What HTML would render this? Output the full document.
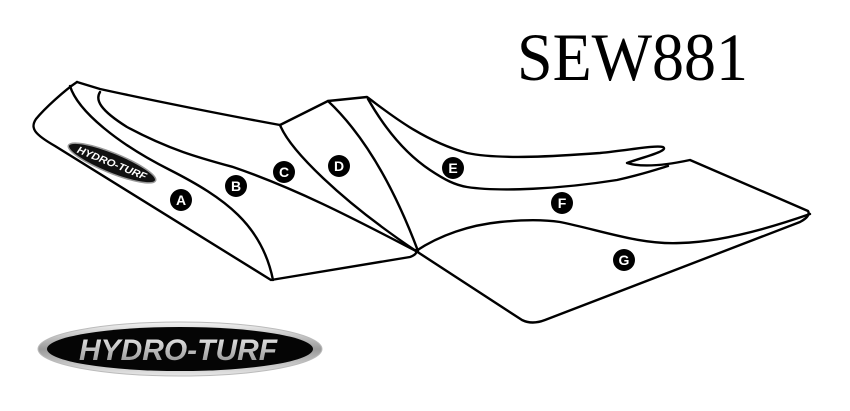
<!DOCTYPE html>
<html><head><meta charset="utf-8"><style>
html,body{margin:0;padding:0;background:#fff;}
svg{display:block;}
</style></head><body>
<svg width="850" height="411" viewBox="0 0 850 411" xmlns="http://www.w3.org/2000/svg">
<defs>
<linearGradient id="sil" x1="0" y1="0" x2="0" y2="1">
<stop offset="0" stop-color="#f4f4f4"/><stop offset="0.5" stop-color="#9a9a9a"/><stop offset="1" stop-color="#e8e8e8"/>
</linearGradient>
<linearGradient id="txt" x1="0" y1="0" x2="0" y2="1">
<stop offset="0" stop-color="#eeeeee"/><stop offset="1" stop-color="#8a8a8a"/>
</linearGradient>
</defs>
<text x="517" y="80" font-family="Liberation Serif, serif" font-size="68" textLength="231" lengthAdjust="spacingAndGlyphs">SEW881</text>
<g fill="none" stroke="#000" stroke-width="2.4" stroke-linejoin="round" stroke-linecap="round">
<path d="M77,82 C65,90 45,108 36,119 C30,128 34,134 55,146 L271,280 L410,257 Q418,254 416,250"/>
<path d="M77,82 L100,89 C150,100 230,116 280,125 L328,101 L367,97 C385,110 420,140 467,153 C500,160 560,156 600,153 C630,150 655,145 663,147 C670,151 640,158 627,163 C640,167 662,166 690,160 L808,211 Q811,216 800,222 L545,320 Q532,325 522,320 L416,251"/>
<path d="M70,86 C78,112 120,145 170,170 C225,198 262,225 273,280"/>
<path d="M100,92 C95,100 100,110 127,127 C170,150 200,158 233,167 C300,190 360,222 416,251"/>
<path d="M280,125 C290,150 340,200 416,251"/>
<path d="M328,101 Q380,150 418,251"/>
<path d="M368,99 C380,120 400,150 430,170 C445,180 455,185 467,187 C500,192 560,189 617,180 C640,175 655,170 668,166"/>
<path d="M416,251 C440,235 470,225 500,222 C520,220 540,219 560,222 C600,230 640,245 680,243 C720,242 770,228 810,214"/>
</g>
<g transform="translate(112,163) rotate(22)">
<ellipse rx="47" ry="10" fill="#111" stroke="#999" stroke-width="1.5"/>
<text x="0" y="3.5" text-anchor="middle" font-family="Liberation Sans, sans-serif" font-weight="bold" font-style="italic" font-size="10" fill="#fff" textLength="74" lengthAdjust="spacingAndGlyphs">HYDRO-TURF</text>
</g>
<g font-family="Liberation Sans, sans-serif" font-weight="bold" font-size="14" fill="#fff" text-anchor="middle">
<circle cx="181" cy="200" r="11" fill="#000"/><text x="181" y="205">A</text>
<circle cx="236" cy="186" r="11" fill="#000"/><text x="236" y="191">B</text>
<circle cx="284" cy="172" r="11" fill="#000"/><text x="284" y="177">C</text>
<circle cx="339" cy="166" r="11" fill="#000"/><text x="339" y="171">D</text>
<circle cx="453" cy="168" r="11" fill="#000"/><text x="453" y="173">E</text>
<circle cx="562" cy="203" r="11" fill="#000"/><text x="562" y="208">F</text>
<circle cx="624" cy="260" r="11" fill="#000"/><text x="624" y="265">G</text>
</g>
<ellipse cx="180" cy="349" rx="142" ry="27" fill="url(#sil)" stroke="#bbb" stroke-width="1"/>
<ellipse cx="180" cy="349" rx="133" ry="22" fill="#050505"/>
<text x="178" y="360" text-anchor="middle" font-family="Liberation Sans, sans-serif" font-weight="bold" font-style="italic" font-size="30" fill="url(#txt)" textLength="198" lengthAdjust="spacingAndGlyphs">HYDRO-TURF</text>
</svg>
</body></html>
